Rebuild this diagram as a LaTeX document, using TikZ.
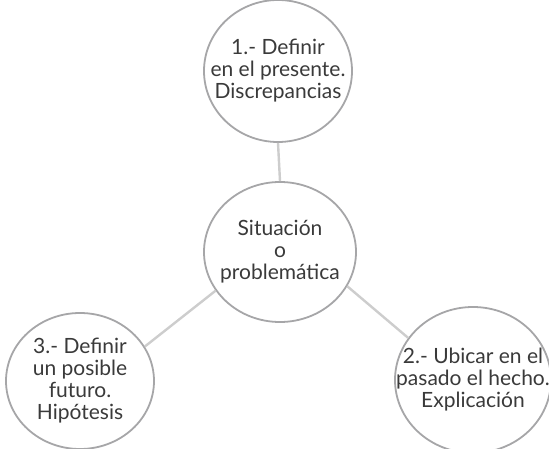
\documentclass[tikz,border=0pt]{standalone}
\usepackage{fontspec}
\setmainfont{Lato}
\usetikzlibrary{shapes.geometric}
\definecolor{ringgrey}{HTML}{A6A6A8}
\definecolor{linkgrey}{HTML}{CDCDCD}
\definecolor{textgrey}{HTML}{3A3A3A}

\begin{document}
\begin{tikzpicture}[x=1pt,y=-1pt,
  bubble/.style={ellipse,draw=ringgrey,line width=1.8pt,fill=white,
    inner xsep=-30pt,inner ysep=-30pt,
    align=center,text=textgrey,font=\fontsize{21}{22}\selectfont},
  link/.style={draw=linkgrey,line width=2.4pt}]
% Page
\useasboundingbox (0,0) rectangle (549,449);
% Circles
\node[bubble,minimum width=148pt,minimum height=142pt] (def1) at (278,71)
  {1.- Definir\\en el presente.\\Discrepancias};
\node[bubble,minimum width=152pt,minimum height=140pt] (sit) at (280,252)
  {Situación\\o\\problemática};
\node[bubble,minimum width=148pt,minimum height=136pt] (def3) at (80,381)
  {3.- Definir\\un posible\\futuro.\\Hipótesis};
\node[bubble,minimum width=156pt,minimum height=146pt] (def2) at (473,380)
  {2.- Ubicar en el\\pasado el hecho.\\Explicación};
% Connecting the circles
\draw[link] (def1.south) -- (sit.north);
\draw[link] (sit.211) -- (def3.28);
\draw[link] (sit.-27) -- (def2.147);
\end{tikzpicture}
\end{document}
